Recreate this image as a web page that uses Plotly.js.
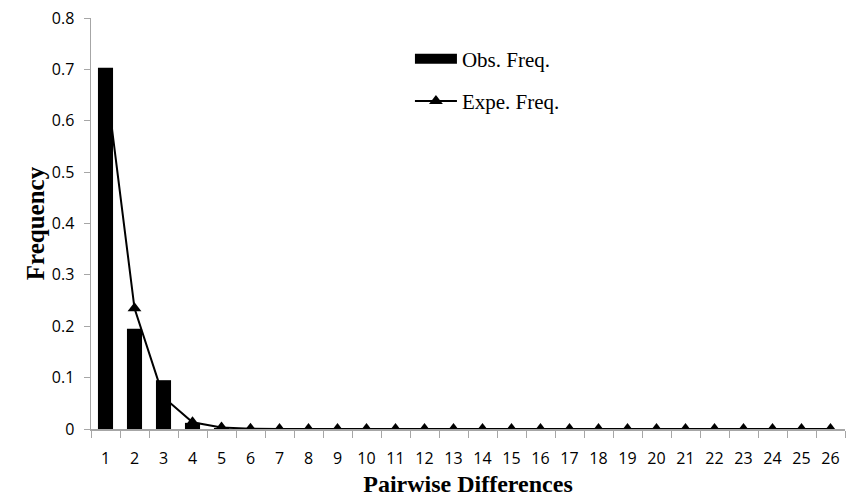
<!DOCTYPE html>
<html>
<head>
<meta charset="utf-8">
<script src="https://cdn.plot.ly/plotly-3.0.1.min.js"></script>
<style>html,body{margin:0;padding:0;background:#fff;}#chart{width:854px;height:501px;}</style>
</head>
<body>
<div id="chart"></div>
<script>
const categories = ["1","2","3","4","5","6","7","8","9","10","11","12","13","14","15","16","17","18","19","20","21","22","23","24","25","26"];
const obsFreq = [0.703, 0.195, 0.095, 0.012, 0.002, 0, 0, 0, 0, 0, 0, 0, 0, 0, 0, 0, 0, 0, 0, 0, 0, 0, 0, 0, 0, 0];
const expFreq = [0.685, 0.235, 0.062, 0.013, 0.003, 0.0005, 0, 0, 0, 0, 0, 0, 0, 0, 0, 0, 0, 0, 0, 0, 0, 0, 0, 0, 0, 0];
const yTicks = [0, 0.1, 0.2, 0.3, 0.4, 0.5, 0.6, 0.7, 0.8];

const traces = [
  {type: 'bar', name: 'Obs. Freq.', x: categories, y: obsFreq,
   marker: {color: '#000000'}, showlegend: false},
  {type: 'scatter', mode: 'lines+markers', name: 'Expe. Freq.', x: categories, y: expFreq,
   legendgroup: 'b',
   line: {color: '#000000', width: 2},
   marker: {symbol: 'triangle-up', size: 12, color: '#000000'}},
  // legend-only entry showing the wide bar swatch
  {type: 'scatter', mode: 'lines', name: 'Obs. Freq.', x: [null], y: [null],
   legendgroup: 'a', legendrank: 1,
   line: {color: '#000000', width: 14}}
];

const layout = {
  width: 854, height: 501,
  margin: {l: 91, r: 9, t: 18, b: 72},
  paper_bgcolor: '#ffffff', plot_bgcolor: '#ffffff',
  bargap: 0.48,
  showlegend: true,
  legend: {x: 0.423, y: 0.95, xanchor: 'left', yanchor: 'top',
           font: {family: 'Liberation Serif, Times New Roman, serif', size: 21, color: '#000'},
           itemwidth: 42, tracegroupgap: 12, bgcolor: 'rgba(0,0,0,0)'},
  xaxis: {type: 'category', range: [-0.5, 25.5], tickson: 'boundaries', ticks: 'outside', ticklen: 7,
          tickangle: 0, ticklabelstandoff: 14,
          tickcolor: '#a6a6a6', showline: true, linecolor: '#a6a6a6', linewidth: 1.5,
          showgrid: false, zeroline: false,
          tickfont: {family: 'Open Sans, Lato, sans-serif', size: 16, color: '#000'},
          title: {text: 'Pairwise Differences', standoff: 7,
                  font: {family: 'Liberation Serif, Times New Roman, serif', size: 24, color: '#000', weight: 'bold'}}},
  yaxis: {range: [0, 0.8], tickvals: yTicks, ticktext: yTicks.map(v => String(v)),
          ticks: 'outside', ticklen: 6, tickcolor: '#a6a6a6', ticklabelstandoff: 6,
          showline: true, linecolor: '#a6a6a6', linewidth: 1.5,
          showgrid: false, zeroline: false,
          tickfont: {family: 'Open Sans, Lato, sans-serif', size: 16, color: '#000'},
          title: {text: 'Frequency', standoff: 0,
                  font: {family: 'Liberation Serif, Times New Roman, serif', size: 25, color: '#000', weight: 'bold'}}}
};

Plotly.newPlot('chart', traces, layout, {displayModeBar: false, staticPlot: true});
</script>
</body>
</html>
